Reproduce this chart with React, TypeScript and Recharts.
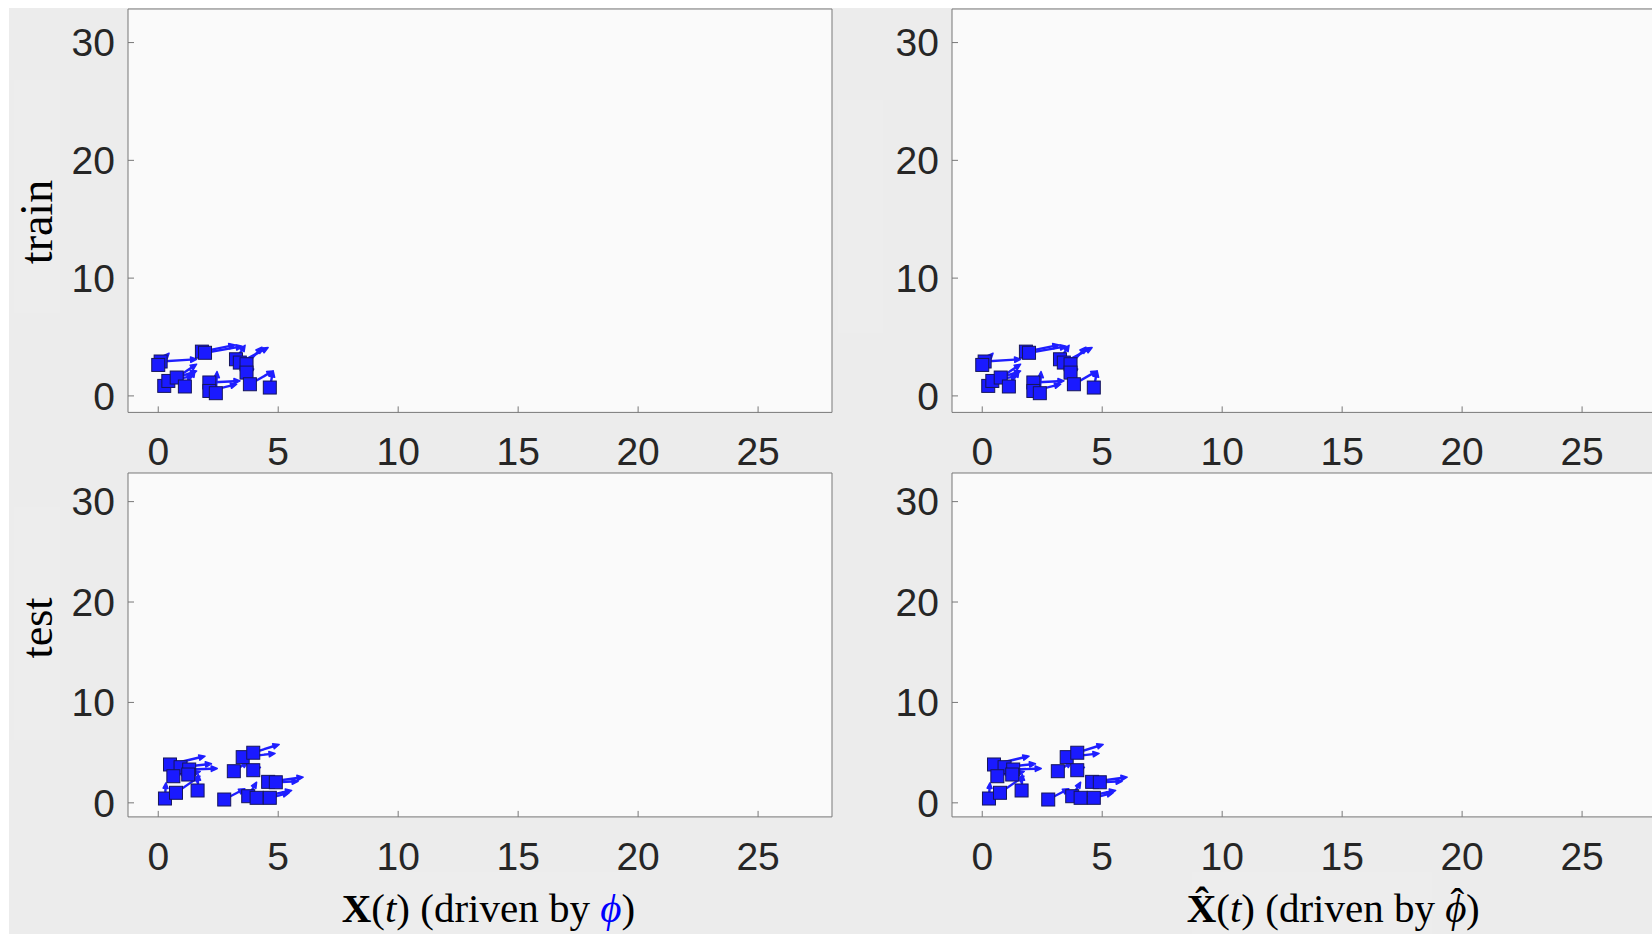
import { ScatterChart, Scatter, XAxis, YAxis, CartesianGrid, ReferenceLine } from "recharts";

// tick values
const xTicks = [0, 5, 10, 15, 20, 25];
const yTicks = [0, 10, 20, 30];

// train: positions (x, y) and quiver components (u, v)
const trainX = [0.1, 0.0, 1.82, 1.95, 0.25, 0.42, 0.77, 1.11, 2.13, 2.13, 2.4, 3.24, 3.4, 3.68, 3.68, 3.82, 4.65];
const trainY = [2.92, 2.63, 3.76, 3.66, 0.85, 1.27, 1.56, 0.8, 1.14, 0.42, 0.23, 3.11, 2.83, 2.69, 1.98, 0.99, 0.71];
const trainU = [1.5, 0.45, 1.38, 1.55, 1.35, 1.04, 0.83, 0.42, 1.28, 1.14, 0.05, 0.38, 1.18, 0.64, 0.3, 0.97, 0.14];
const trainV = [0.19, 1.0, 0.56, 0.55, 1.84, 0.42, 0.56, 1.32, 0.13, 0.57, 1.84, 1.19, 1.27, 1.44, 0.3, 1.13, 1.41];

// test: positions (x, y) and quiver components (u, v)
const testX = [0.49, 0.93, 1.29, 0.63, 1.25, 0.28, 0.74, 1.64, 3.52, 3.96, 3.15, 3.96, 2.75, 3.75, 4.1, 4.65, 4.58, 4.9];
const testY = [3.82, 3.55, 3.32, 2.65, 2.82, 0.43, 1.0, 1.23, 4.55, 4.99, 3.15, 3.25, 0.33, 0.66, 0.5, 0.5, 2.09, 2.05];
const testU = [1.46, 1.29, 1.17, 0.5, 0.5, 0.04, 1.0, 0.03, 1.35, 1.08, 0.58, 0.3, 0.86, 0.35, 1.46, 0.8, 1.46, 0.93];
const testV = [0.83, 0.34, 0.1, 0.37, 0.3, 1.56, 1.65, 1.6, 0.37, 0.83, 0.9, 0.3, 1.07, 1.4, 0.73, 0.5, 0.46, 0.1];

const X_DOMAIN: [number, number] = [-1.26, 28.08];
const Y_DOMAIN: [number, number] = [-1.4, 32.85];

const AXIS = "#777777";
const TEXT = "#262626";
const ARROW = "#1e1eff";
const FILL = "#1a1aff";
const EDGE = "#16165a";
const SANS = '"Liberation Sans", Arial, sans-serif';
const SERIF = '"Liberation Serif", "DejaVu Serif", serif';

function Arrow(props: any) {
  const { x1, y1, x2, y2 } = props;
  const dx = x2 - x1;
  const dy = y2 - y1;
  const len = Math.hypot(dx, dy) || 1;
  const ux = dx / len;
  const uy = dy / len;
  const h = Math.min(6, len * 0.35);
  const w = h * 0.45;
  const bx = x2 - ux * h;
  const by = y2 - uy * h;
  return (
    <g>
      <line x1={x1} y1={y1} x2={bx} y2={by} stroke={ARROW} strokeWidth={2.4} />
      <polygon
        points={`${bx - uy * w},${by + ux * w} ${x2},${y2} ${bx + uy * w},${by - ux * w}`}
        fill={ARROW}
        stroke={ARROW}
        strokeWidth={1.5}
        strokeLinejoin="round"
      />
    </g>
  );
}

function Square(props: any) {
  const { cx, cy } = props;
  return <rect x={cx - 6.5} y={cy - 6.5} width={13} height={13} fill={FILL} stroke={EDGE} strokeWidth={1} />;
}

interface PanelProps {
  left: number;
  top: number;
  plotW: number;
  plotH: number;
  xs: number[];
  ys: number[];
  us: number[];
  vs: number[];
}

function Panel({ left, top, plotW, plotH, xs, ys, us, vs }: PanelProps) {
  const YW = 119;
  const XH = 60;
  const MR = 2;
  const pts = xs.map((x, i) => ({ x, y: ys[i] }));
  const tickStyle = { fill: TEXT, fontSize: 39, fontFamily: SANS };
  return (
    <div style={{ position: "absolute", left: left - YW, top: top - 1 }}>
      <ScatterChart
        width={YW + plotW + 1 + MR}
        height={1 + plotH + XH}
        margin={{ top: 0, right: MR, bottom: 0, left: 0 }}
      >
        <CartesianGrid fill="#fafafa" horizontal={false} vertical={false} />
        <XAxis
          dataKey="x"
          type="number"
          domain={X_DOMAIN}
          allowDataOverflow
          ticks={xTicks}
          interval={0}
          height={XH}
          tickSize={-6}
          tickMargin={31}
          tick={tickStyle}
          axisLine={{ stroke: AXIS }}
          tickLine={{ stroke: AXIS }}
        />
        <XAxis
          xAxisId="top"
          orientation="top"
          type="number"
          domain={X_DOMAIN}
          allowDataOverflow
          ticks={xTicks}
          interval={0}
          height={1}
          tickSize={-6}
          tick={false}
          axisLine={{ stroke: AXIS }}
          tickLine={{ stroke: AXIS }}
        />
        <YAxis
          dataKey="y"
          type="number"
          domain={Y_DOMAIN}
          allowDataOverflow
          ticks={yTicks}
          interval={0}
          width={YW}
          tickSize={-6}
          tickMargin={19}
          tick={tickStyle}
          axisLine={{ stroke: AXIS }}
          tickLine={{ stroke: AXIS }}
        />
        <YAxis
          yAxisId="right"
          orientation="right"
          type="number"
          domain={Y_DOMAIN}
          allowDataOverflow
          ticks={yTicks}
          interval={0}
          width={1}
          tickSize={-6}
          tick={false}
          axisLine={{ stroke: AXIS }}
          tickLine={{ stroke: AXIS }}
        />
        {pts.map((p, i) => (
          <ReferenceLine
            key={i}
            segment={[
              { x: p.x, y: p.y },
              { x: p.x + us[i], y: p.y + vs[i] },
            ]}
            shape={Arrow}
          />
        ))}
        <Scatter data={pts} shape={Square} isAnimationActive={false} />
      </ScatterChart>
    </div>
  );
}

export default function App() {
  return (
    <div
      style={{
        position: "fixed",
        left: 9,
        top: 8,
        width: 1643,
        height: 926,
        background: "#ececec",
        overflow: "hidden",
      }}
    >
      <div style={{ position: "absolute", left: 5, top: 72, width: 46, height: 233, background: "#ededed" }} />
      <div style={{ position: "absolute", left: 5, top: 499, width: 46, height: 233, background: "#ededed" }} />
      <div style={{ position: "absolute", left: 829, top: 92, width: 45, height: 233, background: "#ededed" }} />
      <div style={{ position: "absolute", left: 371, top: 864, width: 240, height: 62, background: "#ededed" }} />
      <div style={{ position: "absolute", left: 1183, top: 864, width: 240, height: 62, background: "#ededed" }} />
      <Panel left={119} top={1.3} plotW={704} plotH={403.4} xs={trainX} ys={trainY} us={trainU} vs={trainV} />
      <Panel left={943.3} top={1.3} plotW={704} plotH={403.4} xs={trainX} ys={trainY} us={trainU} vs={trainV} />
      <Panel left={119} top={465.4} plotW={704} plotH={343.9} xs={testX} ys={testY} us={testU} vs={testV} />
      <Panel left={943.3} top={465.4} plotW={704} plotH={343.9} xs={testX} ys={testY} us={testU} vs={testV} />
      <svg
        width={1643}
        height={926}
        style={{ position: "absolute", left: 0, top: 0, pointerEvents: "none" }}
      >
        <text x={42.7} y={214} transform="rotate(-90 42.7 214)" textAnchor="middle" fontSize={46} fontFamily={SERIF} fill="#000">
          train
        </text>
        <text x={42.7} y={620} transform="rotate(-90 42.7 620)" textAnchor="middle" fontSize={44} fontFamily={SERIF} fill="#000">
          test
        </text>
        <text x={332.7} y={913.7} fontSize={41} fontFamily={SERIF} fill="#000">
          <tspan fontWeight="bold">X</tspan>(<tspan fontStyle="italic">t</tspan>) (driven by{" "}
          <tspan fill="#0000ff" fontStyle="italic">{"\u03d5"}</tspan>)
        </text>
        <text x={1177.7} y={913.7} fontSize={41} fontFamily={SERIF} fill="#000">
          <tspan fontWeight="bold">{"X\u0302"}</tspan>(<tspan fontStyle="italic">t</tspan>) (driven by{" "}
          <tspan fontStyle="italic">{"\u03d5"}</tspan>
          <tspan dx={-16} dy={-6}>{"\u02c6"}</tspan>
          <tspan dx={2} dy={6}>)</tspan>
        </text>
      </svg>
    </div>
  );
}
